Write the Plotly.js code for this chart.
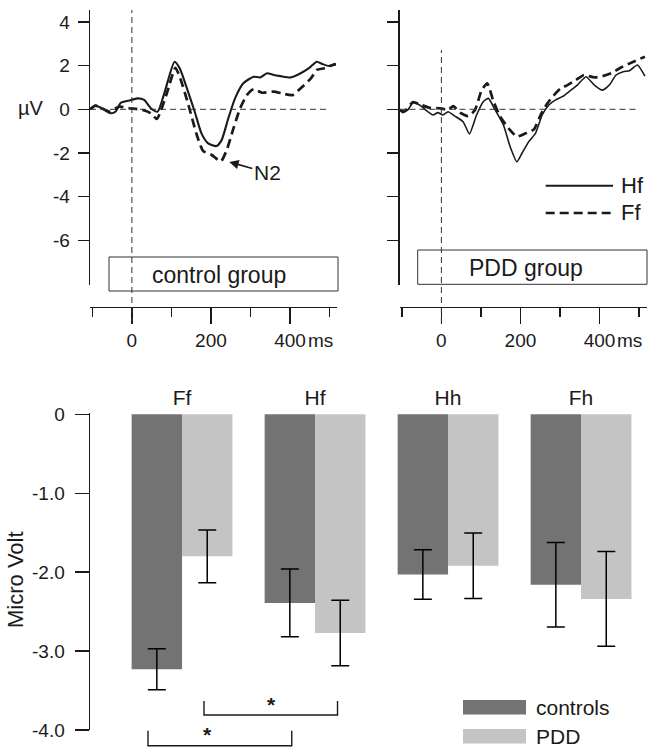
<!DOCTYPE html>
<html>
<head>
<meta charset="utf-8">
<script src="https://cdn.plot.ly/plotly-3.0.1.min.js"></script>
<style>
  html, body { margin: 0; padding: 0; background: #ffffff; }
  #chart { width: 651px; height: 748px; }
</style>
</head>
<body>
<div id="chart"></div>
<script>
// ---------------- DATA ----------------
// ERP waveforms (time in ms, amplitude in µV)
const ctrlHfTime = [-106,-92,-75,-54,-41,-28,-7,14,31,48,65,82,108,121,138,159,176,193,214,227,244,261,282,308,325,342,359,376,402,427,448,468,482,499,516];
const ctrlHfAmp  = [0,0.17,0.04,-0.18,-0.1,0.3,0.4,0.5,0.43,0.05,-0.11,0.73,2.18,1.88,1.03,-0.11,-1.1,-1.56,-1.68,-1.41,-0.41,0.5,1.19,1.49,1.46,1.65,1.57,1.52,1.46,1.65,1.88,2.18,2.07,1.98,2.07];

const ctrlFfTime = [-106,-92,-58,-32,-7,27,48,63,74,91,110,121,142,163,180,202,225,240,257,274,291,308,329,359,380,406,427,453,468,487,508,516];
const ctrlFfAmp  = [0,0.17,-0.1,0.12,0.05,-0.03,-0.18,-0.44,-0.03,0.88,1.9,1.49,0.27,-1.1,-1.9,-2.09,-2.38,-1.86,-0.87,0.05,0.65,0.92,0.76,0.81,0.73,0.65,0.96,1.42,1.8,1.88,2.03,2.07];

const pddHfTime = [-106,-98,-85,-72,-55,-38,-21,-9,4,17,34,55,71,89,106,119,136,157,174,191,204,221,238,255,272,289,306,323,344,366,387,408,425,442,460,476,496,515];
const pddHfAmp  = [-0.03,-0.15,-0.03,0.3,0.2,-0.06,-0.26,-0.15,-0.26,-0.11,-0.31,-0.57,-1.13,-0.26,0.35,0.5,-0.03,-0.72,-1.71,-2.4,-2.01,-1.48,-1.1,-0.26,0.2,0.43,0.58,0.81,1.11,1.49,1.11,0.88,1.11,1.57,1.72,1.77,2.03,1.52];

const pddFfTime = [-106,-94,-72,-51,-30,-4,17,30,47,68,85,102,116,132,149,170,191,213,234,251,268,285,302,319,340,361,387,408,430,451,476,515];
const pddFfAmp  = [-0.03,-0.1,0.33,0.2,0.07,0.05,-0.03,0.15,-0.15,-0.31,-0.03,0.88,1.19,0.35,-0.34,-0.87,-1.25,-1.1,-0.92,-0.26,0.27,0.65,0.96,1.11,1.34,1.57,1.46,1.52,1.65,1.88,2.1,2.41];

const erpXTicks = [0, 200, 400];
const erpXTickText = ['0', '200', '400'];
const erpXMinor = [-100, 100, 300, 500];
const erpYTicks = [-6, -4, -2, 0, 2, 4];
const erpYTickText = ['-6', '-4', '-2', '0', '2', '4'];

// Bar chart (N2 amplitude, Micro Volt)
const conditions = ['Ff', 'Hf', 'Hh', 'Fh'];
const controlsMean = [-3.23, -2.39, -2.03, -2.16];
const controlsErr  = [0.26, 0.43, 0.315, 0.535];
const pddMean = [-1.80, -2.77, -1.92, -2.34];
const pddErr  = [0.335, 0.415, 0.415, 0.60];
const barYTicks = [0, -1, -2, -3, -4];
const barYTickText = ['0', '-1.0', '-2.0', '-3.0', '-4.0'];

// ---------------- LAYOUT HELPERS ----------------
const W = 651, H = 748;
const px = p => p / W;          // pixel x -> paper
const py = p => 1 - p / H;      // pixel y -> paper
const FONT = 'Liberation Sans, Arial, Helvetica, sans-serif';
const INK = '#1a1a1a';

const darkGray = '#737373';
const lightGray = '#c4c4c4';

// ---------------- TRACES ----------------
const traces = [
  { x: ctrlHfTime, y: ctrlHfAmp, xaxis: 'x', yaxis: 'y', mode: 'lines', line: { color: INK, width: 2.1, shape: 'spline', smoothing: 0.6 } },
  { x: ctrlFfTime, y: ctrlFfAmp, xaxis: 'x', yaxis: 'y', mode: 'lines', line: { color: INK, width: 2.7, dash: '9px,5px', shape: 'spline', smoothing: 0.6 } },
  { x: pddHfTime, y: pddHfAmp, xaxis: 'x2', yaxis: 'y2', mode: 'lines', line: { color: INK, width: 1.6, shape: 'spline', smoothing: 0.5 } },
  { x: pddFfTime, y: pddFfAmp, xaxis: 'x2', yaxis: 'y2', mode: 'lines', line: { color: INK, width: 2.7, dash: '9px,5px', shape: 'spline', smoothing: 0.5 } },
  { type: 'bar', name: 'controls', x: conditions, y: controlsMean, xaxis: 'x3', yaxis: 'y3',
    marker: { color: darkGray, line: { width: 0 } },
    error_y: { type: 'data', array: controlsErr, visible: true, color: '#000', thickness: 1.5, width: 9 } },
  { type: 'bar', name: 'PDD', x: conditions, y: pddMean, xaxis: 'x3', yaxis: 'y3',
    marker: { color: lightGray, line: { width: 0 } },
    error_y: { type: 'data', array: pddErr, visible: true, color: '#000', thickness: 1.5, width: 9 } }
];

// ---------------- AXES ----------------
function erpX(domainPx) {
  return {
    domain: [px(domainPx[0]), px(domainPx[1])],
    range: [-106, 519],
    anchor: 'free', position: py(306.7),
    showline: true, linecolor: INK, linewidth: 1.3,
    ticks: 'outside', ticklen: 16, tickwidth: 1.4, tickcolor: INK,
    tickvals: erpXTicks, ticktext: erpXTickText,
    minor: { tickvals: erpXMinor, ticks: 'outside', ticklen: 9, tickwidth: 1.4, tickcolor: INK, showgrid: false },
    ticklabelstandoff: 0,
    tickfont: { family: FONT, size: 19, color: INK },
    showgrid: false, zeroline: false, fixedrange: true
  };
}
function erpY(anchor, showLabels) {
  return {
    domain: [py(285), py(10)],
    range: [-8.04, 4.545],
    anchor: anchor,
    showline: true, linecolor: INK, linewidth: 1.4,
    ticks: 'outside', ticklen: 11, tickwidth: 1.4, tickcolor: INK,
    tickvals: erpYTicks, ticktext: erpYTickText,
    showticklabels: showLabels,
    ticklabelstandoff: 4,
    tickfont: { family: FONT, size: 19, color: INK },
    showgrid: false, zeroline: false, fixedrange: true
  };
}

const layout = {
  width: W, height: H,
  margin: { l: 0, r: 0, t: 0, b: 0, pad: 0 },
  paper_bgcolor: '#ffffff', plot_bgcolor: 'rgba(0,0,0,0)',
  showlegend: false,
  font: { family: FONT, color: INK },
  barmode: 'group', bargap: 0.242, bargroupgap: 0,
  xaxis: erpX([90, 337]),
  yaxis: erpY('x', true),
  xaxis2: erpX([399.5, 646.5]),
  yaxis2: erpY('x2', false),
  xaxis3: {
    domain: [px(90), 1], anchor: 'y3', side: 'top', type: 'category',
    range: [-0.692, 3.526],
    showline: false, ticks: '', showgrid: false, zeroline: false,
    ticklabelstandoff: 3,
    tickfont: { family: FONT, size: 21, color: INK }, fixedrange: true
  },
  yaxis3: {
    domain: [py(730), py(413)], anchor: 'x3',
    range: [-4.0, 0.016],
    showline: true, linecolor: INK, linewidth: 1.4,
    ticks: 'outside', ticklen: 14, tickwidth: 1.4, tickcolor: INK,
    tickvals: barYTicks, ticktext: barYTickText,
    ticklabelstandoff: 6,
    tickfont: { family: FONT, size: 19, color: INK },
    showgrid: false, zeroline: false, fixedrange: true
  },
  shapes: [],
  annotations: []
};

// zero lines and stimulus-onset lines (dashed)
const zeroDash = { color: '#333', width: 1, dash: '6px,4px' };
[['x', 'y'], ['x2', 'y2']].forEach(([xa, ya], i) => {
  layout.shapes.push({ type: 'line', xref: xa, yref: ya, x0: -106, x1: 497, y0: 0, y1: 0, line: zeroDash });
  layout.shapes.push({ type: 'line', xref: xa, yref: 'paper', x0: 0, x1: 0,
    y0: py(323), y1: py(i === 0 ? 10 : 50), line: zeroDash });
});

// group boxes
layout.shapes.push({ type: 'rect', xref: 'paper', yref: 'paper', x0: px(109), x1: px(338), y0: py(291), y1: py(257), line: { color: '#333', width: 1 } });
layout.shapes.push({ type: 'rect', xref: 'paper', yref: 'paper', x0: px(417.7), x1: px(647), y0: py(284.3), y1: py(250), line: { color: '#333', width: 1 } });
layout.annotations.push({ xref: 'paper', yref: 'paper', x: px(219), y: py(275), text: 'control group', showarrow: false, font: { family: FONT, size: 23, color: INK }, xanchor: 'center', yanchor: 'middle' });
layout.annotations.push({ xref: 'paper', yref: 'paper', x: px(525.5), y: py(268), text: 'PDD group', showarrow: false, font: { family: FONT, size: 23, color: INK }, xanchor: 'center', yanchor: 'middle' });

// µV label and ms units
layout.annotations.push({ xref: 'paper', yref: 'paper', x: px(30.5), y: py(108), text: 'µV', showarrow: false, font: { family: FONT, size: 20, color: INK }, xanchor: 'center', yanchor: 'middle' });
['x', 'x2'].forEach(xa => {
  layout.annotations.push({ xref: xa, yref: 'paper', x: 400, y: py(340), xshift: 16, text: 'ms', showarrow: false, font: { family: FONT, size: 19, color: INK }, xanchor: 'left', yanchor: 'middle' });
});

// N2 arrow
layout.annotations.push({ xref: 'x', yref: 'y', x: 244, y: -2.4, text: 'N2', showarrow: true,
  ax: 39, ay: 11, arrowhead: 2, arrowsize: 1.1, arrowwidth: 1.7, arrowcolor: INK, standoff: 1,
  font: { family: FONT, size: 21, color: INK } });

// legend for waveforms
layout.shapes.push({ type: 'line', xref: 'paper', yref: 'paper', x0: px(545.7), x1: px(613), y0: py(185.7), y1: py(185.7), line: { color: INK, width: 2 } });
layout.shapes.push({ type: 'line', xref: 'paper', yref: 'paper', x0: px(545.7), x1: px(613), y0: py(213), y1: py(213), line: { color: INK, width: 2.7, dash: '9px,5px' } });
layout.annotations.push({ xref: 'paper', yref: 'paper', x: px(619), y: py(185.7), text: 'Hf', showarrow: false, font: { family: FONT, size: 22, color: INK }, xanchor: 'left', yanchor: 'middle' });
layout.annotations.push({ xref: 'paper', yref: 'paper', x: px(619), y: py(213), text: 'Ff', showarrow: false, font: { family: FONT, size: 22, color: INK }, xanchor: 'left', yanchor: 'middle' });

// bar chart y title
layout.annotations.push({ xref: 'paper', yref: 'paper', x: px(15), y: py(580), text: 'Micro Volt', textangle: -90, showarrow: false, font: { family: FONT, size: 22, color: INK }, xanchor: 'center', yanchor: 'middle' });

// significance brackets (category index +/- offset)
function bracket(x0, x1, yLinePx, yTopPx, starX, starTopPx) {
  layout.shapes.push({ type: 'path', xref: 'x3', yref: 'paper',
    path: `M ${x0},${py(yTopPx)} L ${x0},${py(yLinePx)} L ${x1},${py(yLinePx)} L ${x1},${py(yTopPx)}`,
    line: { color: INK, width: 1.4 } });
  layout.annotations.push({ xref: 'x3', yref: 'paper', x: starX, y: py(starTopPx), text: '<b>*</b>', showarrow: false,
    font: { family: FONT, size: 21, color: INK }, xanchor: 'center', yanchor: 'top', borderpad: 0 });
}
bracket(0.165, 1.169, 715, 701, 0.675, 692);
bracket(-0.256, 0.825, 745.7, 730.7, 0.195, 722);

// bar legend
layout.shapes.push({ type: 'rect', xref: 'paper', yref: 'paper', x0: px(463), x1: px(526), y0: py(714.5), y1: py(700), fillcolor: darkGray, line: { width: 0 } });
layout.shapes.push({ type: 'rect', xref: 'paper', yref: 'paper', x0: px(463), x1: px(526), y0: py(743.5), y1: py(729), fillcolor: lightGray, line: { width: 0 } });
layout.annotations.push({ xref: 'paper', yref: 'paper', x: px(534), y: py(707), text: 'controls', showarrow: false, font: { family: FONT, size: 21, color: INK }, xanchor: 'left', yanchor: 'middle' });
layout.annotations.push({ xref: 'paper', yref: 'paper', x: px(534), y: py(736), text: 'PDD', showarrow: false, font: { family: FONT, size: 21, color: INK }, xanchor: 'left', yanchor: 'middle' });

Plotly.newPlot('chart', traces, layout, { displayModeBar: false, staticPlot: true });
</script>
</body>
</html>
